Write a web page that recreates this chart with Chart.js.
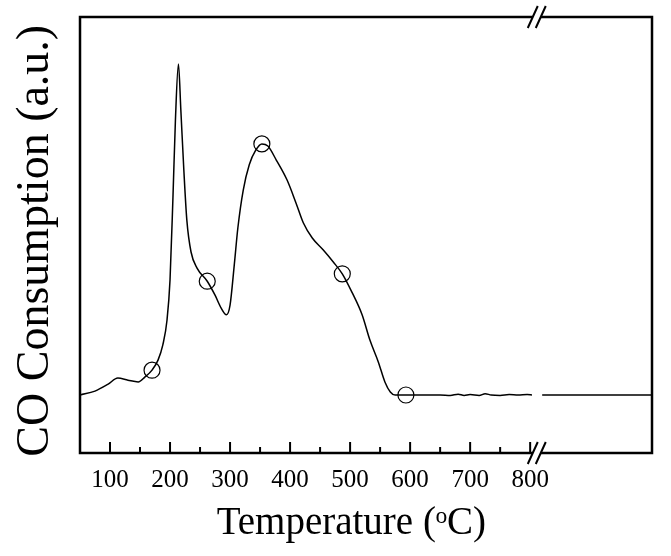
<!DOCTYPE html>
<html>
<head>
<meta charset="utf-8">
<script src="https://cdn.jsdelivr.net/npm/chart.js@4.4.0/dist/chart.umd.min.js"></script>
<style>
html, body { margin: 0; padding: 0; background: #fff; }
#wrap { width: 671px; height: 556px; }
</style>
</head>
<body>
<div id="wrap"><canvas id="tpr-chart"></canvas></div>
<script>
// CO-TPR trace (y in arbitrary units, 0..100)
var temperature = [50, 75, 97, 113, 130, 147, 158, 170, 180, 188, 195, 200, 205, 209, 214, 218, 223, 228, 235, 245, 262, 275, 285, 294, 300, 307, 313, 322, 332, 343, 353, 363, 377, 395, 410, 422, 437, 455, 472, 487, 503, 520, 533, 547, 558, 567, 575, 600, 650, 667, 680, 690, 700, 715, 725, 735, 750, 765, 780, 795, 803, 811, 820, 900, 1003];
var consumption = [13.3, 14.2, 15.8, 17.2, 16.7, 16.3, 17.4, 19.0, 21.3, 24.8, 30.5, 39.7, 59.2, 76.4, 89.2, 78.7, 64.9, 53.4, 46.1, 42.4, 39.4, 36.2, 33.3, 31.7, 33.9, 43.1, 51.6, 60.3, 66.1, 69.5, 70.9, 70.4, 67.2, 62.6, 57.3, 52.8, 49.3, 46.6, 43.8, 41.1, 36.9, 31.7, 25.9, 20.9, 16.3, 14.0, 13.3, 13.3, 13.3, 13.2, 13.5, 13.2, 13.4, 13.2, 13.6, 13.3, 13.2, 13.4, 13.3, 13.4, 13.3, null, 13.3, 13.3, 13.3];
var circleTemp = [170, 262, 353, 487, 593];
var circleValue = [19.0, 39.4, 70.9, 41.1, 13.3];
var tickValues = [100, 200, 300, 400, 500, 600, 700, 800];
var breakAt = 811;

var serif = "'Liberation Serif', 'Times New Roman', 'DejaVu Serif', serif";

var linePoints = [];
for (var i = 0; i < temperature.length; i++) {
    linePoints.push({x: temperature[i], y: consumption[i]});
}
var circlePoints = [];
for (var j = 0; j < circleTemp.length; j++) {
    circlePoints.push({x: circleTemp[j], y: circleValue[j]});
}

// frame, inward ticks and the axis break marks
var framePlugin = {
    id: 'frame',
    afterDraw: function (chart) {
        var ctx = chart.ctx;
        var a = chart.chartArea;
        var xs = chart.scales.x;
        ctx.save();
        ctx.strokeStyle = '#000';
        ctx.lineWidth = 2.5;
        ctx.strokeRect(a.left, a.top, a.right - a.left, a.bottom - a.top);

        ctx.lineWidth = 2;
        xs.ticks.forEach(function (t) {
            if (t.value <= 50 || t.value > 800) return;
            var px = xs.getPixelForValue(t.value);
            var len = t.value % 100 === 0 ? 11 : 6;
            ctx.beginPath();
            ctx.moveTo(px, a.bottom);
            ctx.lineTo(px, a.bottom - len);
            ctx.stroke();
        });

        var bx = xs.getPixelForValue(breakAt);
        [a.top, a.bottom].forEach(function (yy) {
            ctx.fillStyle = '#fff';
            ctx.fillRect(bx - 4, yy - 3, 8, 6);
            ctx.lineWidth = 2;
            ctx.beginPath();
            ctx.moveTo(bx - 9, yy + 11);
            ctx.lineTo(bx + 1, yy - 11);
            ctx.moveTo(bx - 1, yy + 11);
            ctx.lineTo(bx + 9, yy - 11);
            ctx.stroke();
        });
        ctx.restore();
    }
};

new Chart(document.getElementById('tpr-chart'), {
    type: 'line',
    data: {
        datasets: [
            {
                data: linePoints,
                borderColor: '#000',
                borderWidth: 1.5,
                pointRadius: 0,
                cubicInterpolationMode: 'monotone',
                spanGaps: false,
                fill: false
            },
            {
                data: circlePoints,
                showLine: false,
                pointStyle: 'circle',
                pointRadius: 8,
                pointBackgroundColor: 'rgba(0,0,0,0)',
                pointBorderColor: '#000',
                pointBorderWidth: 1.2
            }
        ]
    },
    options: {
        responsive: true,
        maintainAspectRatio: false,
        animation: false,
        layout: { padding: { top: 17, right: 19, bottom: 0, left: 0 } },
        plugins: { legend: { display: false }, tooltip: { enabled: false } },
        scales: {
            x: {
                type: 'linear',
                min: 50,
                max: 1003,
                grid: { display: false, drawTicks: false },
                border: { display: false },
                afterFit: function (s) { s.height = 103; },
                afterBuildTicks: function (s) {
                    var arr = [];
                    for (var v = 50; v <= 800; v += 50) arr.push({value: v});
                    s.ticks = arr;
                },
                ticks: {
                    autoSkip: false,
                    maxRotation: 0,
                    padding: 12,
                    color: '#000',
                    font: { family: serif, size: 25 },
                    callback: function (v) { return tickValues.indexOf(v) >= 0 ? String(v) : ''; }
                },
                title: {
                    display: true,
                    text: 'Temperature (\u1D52C)\u00A0\u00A0\u00A0',
                    color: '#000',
                    font: { family: serif, size: 39 },
                    padding: { top: 0, bottom: 9 }
                }
            },
            y: {
                min: 0,
                max: 100,
                grid: { display: false, drawTicks: false },
                border: { display: false },
                ticks: { display: false },
                afterFit: function (s) { s.width = 80; },
                title: {
                    display: true,
                    text: 'CO Consumption (a.u.)\u00A0',
                    color: '#000',
                    font: { family: serif, size: 46 },
                    padding: { top: 8, bottom: 0 }
                }
            }
        }
    },
    plugins: [framePlugin]
});
</script>
</body>
</html>
